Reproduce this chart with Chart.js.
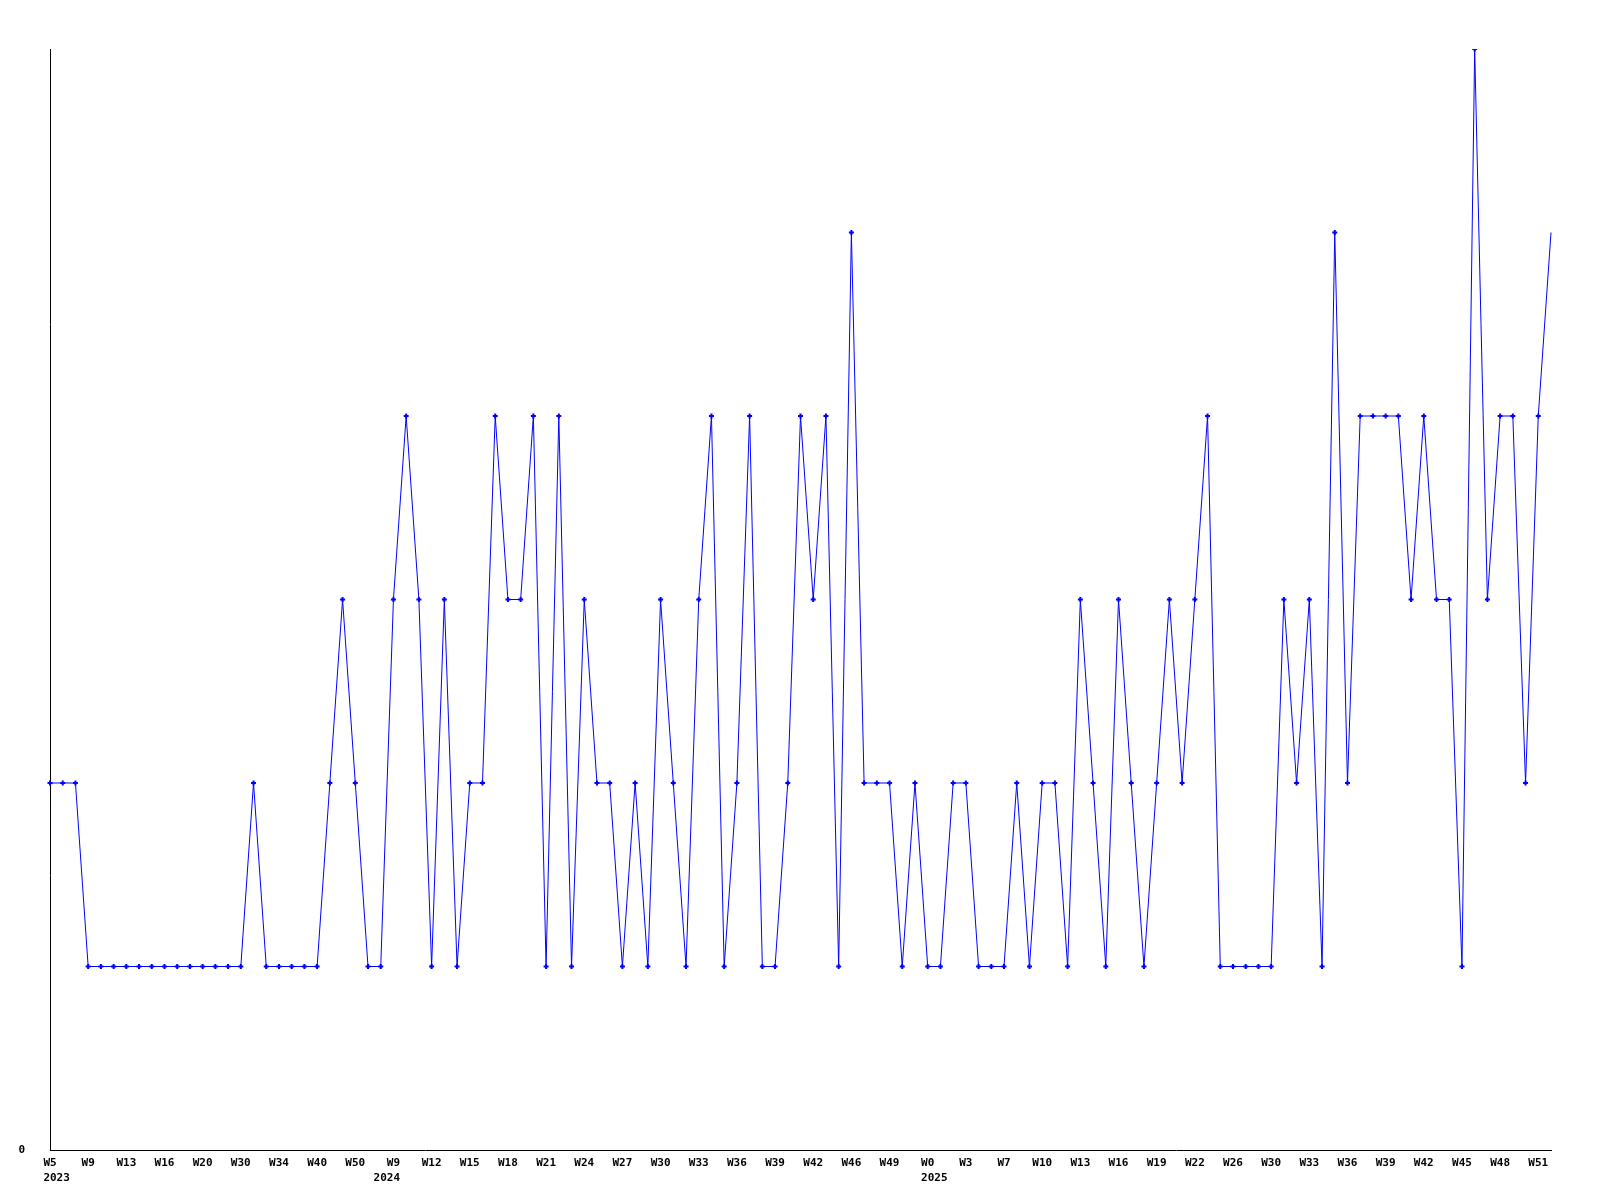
<!DOCTYPE html>
<html>
<head>
<meta charset="utf-8">
<script src="https://cdn.jsdelivr.net/npm/chart.js@4.4.1/dist/chart.umd.min.js"></script>
<style>
    html, body { margin: 0; padding: 0; background: #fff; }
    #wrap { width: 1600px; height: 1200px; }
</style>
</head>
<body>
<div id="wrap"><canvas id="weekly" width="1600" height="1200"></canvas></div>
<script>
// Weekly counts, one point per week label

const weeks = [
    'W5', 'W6', 'W8', 'W9', 'W10', 'W12', 'W13', 'W14', 'W15', 'W16',
    'W17', 'W19', 'W20', 'W23', 'W27', 'W30', 'W31', 'W33', 'W34', 'W36',
    'W38', 'W40', 'W43', 'W46', 'W50', 'W51', 'W52',
    'W9', 'W10', 'W11', 'W12', 'W13', 'W14', 'W15', 'W16', 'W17', 'W18',
    'W19', 'W20', 'W21', 'W22', 'W23', 'W24', 'W25', 'W26', 'W27', 'W28',
    'W29', 'W30', 'W31', 'W32', 'W33', 'W34', 'W35', 'W36', 'W37', 'W38',
    'W39', 'W40', 'W41', 'W42', 'W43', 'W45', 'W46', 'W47', 'W48', 'W49',
    'W50', 'W51',
    'W0', 'W1', 'W2', 'W3', 'W4', 'W5', 'W7', 'W8', 'W9', 'W10',
    'W11', 'W12', 'W13', 'W14', 'W15', 'W16', 'W17', 'W18', 'W19', 'W20',
    'W21', 'W22', 'W23', 'W24', 'W26', 'W27', 'W28', 'W30', 'W31', 'W32',
    'W33', 'W34', 'W35', 'W36', 'W37', 'W38', 'W39', 'W40', 'W41', 'W42',
    'W43', 'W44', 'W45', 'W46', 'W47', 'W48', 'W49', 'W50', 'W51', 'W52'
];

const years = [].concat(
    Array(27).fill('2023'),
    Array(42).fill('2024'),
    Array(50).fill('2025')
);

const counts = [
    2, 2, 2, 1, 1, 1, 1, 1, 1, 1,
    1, 1, 1, 1, 1, 1, 2, 1, 1, 1,
    1, 1, 2, 3, 2, 1, 1, 3, 4, 3,
    1, 3, 1, 2, 2, 4, 3, 3, 4, 1,
    4, 1, 3, 2, 2, 1, 2, 1, 3, 2,
    1, 3, 4, 1, 2, 4, 1, 1, 2, 4,
    3, 4, 1, 5, 2, 2, 2, 1, 2, 1,
    1, 2, 2, 1, 1, 1, 2, 1, 2, 2,
    1, 3, 2, 1, 3, 2, 1, 2, 3, 2,
    3, 4, 1, 1, 1, 1, 1, 3, 2, 3,
    1, 5, 2, 4, 4, 4, 4, 3, 4, 3,
    3, 1, 6, 3, 4, 4, 2, 4, 5
];

const labelEvery = 3;

// year line sits flush with the week text: left for 2023/2025, right for 2024
function yearLine(week, year) {
    const pad = ' '.repeat(Math.max(0, year.length - week.length));
    return year === '2024' ? year + pad : pad + year;
}

const ctx = document.getElementById('weekly');

new Chart(ctx, {
    type: 'line',
    data: {
        labels: weeks,
        datasets: [{
            data: counts,
            borderColor: '#0000ff',
            backgroundColor: '#0000ff',
            borderWidth: 1,
            tension: 0,
            fill: false,
            pointStyle: 'cross',
            pointRadius: function(c) {
                return c.dataIndex === counts.length - 1 ? 0 : 2.5;
            },
            pointBorderWidth: 2,
            pointBackgroundColor: '#0000ff',
            pointBorderColor: '#0000ff'
        }]
    },
    options: {
        responsive: false,
        animation: false,
        layout: {
            padding: { top: 49, right: 49, bottom: 0, left: 0 }
        },
        plugins: {
            legend: { display: false },
            tooltip: { enabled: false }
        },
        scales: {
            x: {
                offset: false,
                grid: { display: false, drawTicks: false },
                border: { display: true, color: '#000', width: 1 },
                ticks: {
                    autoSkip: false,
                    maxRotation: 0,
                    minRotation: 0,
                    padding: 5,
                    color: '#000',
                    font: { family: 'DejaVu Sans Mono', size: 11, weight: 'bold', lineHeight: 1.4 },
                    callback: function(value, index) {
                        if (index % labelEvery !== 0) return null;
                        const w = weeks[index];
                        if (index === 0 || years[index] !== years[index - labelEvery]) {
                            return [w, yearLine(w, years[index])];
                        }
                        return w;
                    }
                },
                afterFit: function(scale) {
                    scale.height = 50;
                }
            },
            y: {
                min: 0,
                max: 6,
                grid: { display: false, drawTicks: false },
                border: { display: true, color: '#000', width: 1 },
                ticks: {
                    padding: 25,
                    color: '#000',
                    font: { family: 'DejaVu Sans Mono', size: 11, weight: 'bold' }
                },
                afterBuildTicks: function(scale) {
                    scale.ticks = [{ value: 0 }];
                },
                afterFit: function(scale) {
                    scale.width = 50;
                }
            }
        }
    }
});
</script>
</body>
</html>
